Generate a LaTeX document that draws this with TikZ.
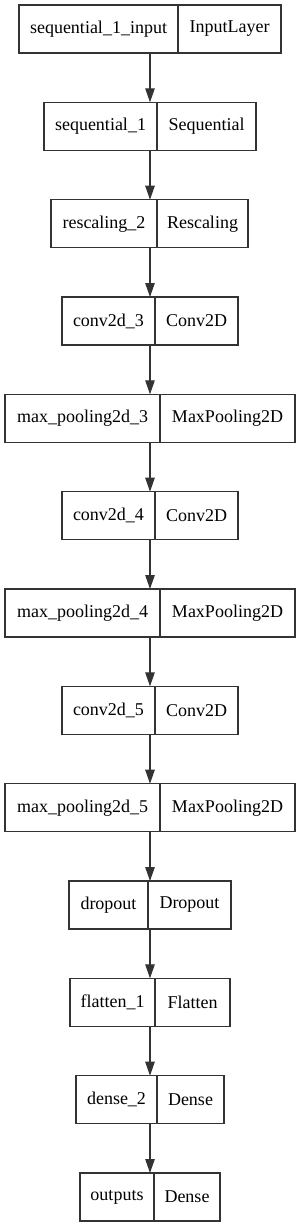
\documentclass[tikz,border=0pt]{standalone}
\usepackage{fontspec}
\setmainfont{Liberation Serif}
\usepackage{tikz}
\usetikzlibrary{positioning,arrows.meta}
\definecolor{EdgeGray}{RGB}{51,51,51}

\begin{document}
\begin{tikzpicture}[
    x=1pt,
    y=-1pt,
    font=\fontsize{18}{20}\selectfont,
    >={Triangle[length=14pt,width=9.5pt]},
    cell/.style={
        draw=EdgeGray,
        line width=1.1pt,
        outer sep=0pt,
        inner sep=2pt,
        minimum height=48pt,
        anchor=west
    },
    arrow/.style={
        ->,
        line width=1.1pt,
        draw=EdgeGray,
        fill=black
    }
]
\useasboundingbox (0,0) rectangle (300,1228);
\coordinate (spine) at (150,0);

\node[cell, minimum width=159pt] (inp) at (19,29) {sequential\_1\_input};
\node[cell, minimum width=103pt, right=0pt of inp] (inptype) {InputLayer};

\node[cell, minimum width=113pt] (seq) at (44,126.3) {sequential\_1};
\node[cell, minimum width=99pt, right=0pt of seq] (seqtype) {Sequential};

\node[cell, minimum width=106pt] (resc) at (51,223.7) {rescaling\_2};
\node[cell, minimum width=91pt, right=0pt of resc] (resctype) {Rescaling};

\node[cell, minimum width=93pt] (conva) at (62,321) {conv2d\_3};
\node[cell, minimum width=83pt, right=0pt of conva] (convatype) {Conv2D};

\node[cell, minimum width=155pt] (poola) at (5,418.3) {max\_pooling2d\_3};
\node[cell, minimum width=135pt, right=0pt of poola] (poolatype) {MaxPooling2D};

\node[cell, minimum width=93pt] (convb) at (62,515.7) {conv2d\_4};
\node[cell, minimum width=83pt, right=0pt of convb] (convbtype) {Conv2D};

\node[cell, minimum width=155pt] (poolb) at (5,613) {max\_pooling2d\_4};
\node[cell, minimum width=135pt, right=0pt of poolb] (poolbtype) {MaxPooling2D};

\node[cell, minimum width=93pt] (convc) at (62,710.3) {conv2d\_5};
\node[cell, minimum width=83pt, right=0pt of convc] (convctype) {Conv2D};

\node[cell, minimum width=155pt] (poolc) at (5,807.7) {max\_pooling2d\_5};
\node[cell, minimum width=135pt, right=0pt of poolc] (poolctype) {MaxPooling2D};

\node[cell, minimum width=79pt] (drop) at (69,905) {dropout};
\node[cell, minimum width=83pt, right=0pt of drop] (droptype) {Dropout};

\node[cell, minimum width=85pt] (flat) at (70,1002.3) {flatten\_1};
\node[cell, minimum width=75pt, right=0pt of flat] (flattype) {Flatten};

\node[cell, minimum width=81pt] (dense) at (76,1099.7) {dense\_2};
\node[cell, minimum width=67pt, right=0pt of dense] (densetype) {Dense};

\node[cell, minimum width=74pt] (outs) at (80,1197) {outputs};
\node[cell, minimum width=66pt, right=0pt of outs] (outstype) {Dense};

\draw[arrow] (inp.south -| spine) -- (seq.north -| spine);
\draw[arrow] (seq.south -| spine) -- (resc.north -| spine);
\draw[arrow] (resc.south -| spine) -- (conva.north -| spine);
\draw[arrow] (conva.south -| spine) -- (poola.north -| spine);
\draw[arrow] (poola.south -| spine) -- (convb.north -| spine);
\draw[arrow] (convb.south -| spine) -- (poolb.north -| spine);
\draw[arrow] (poolb.south -| spine) -- (convc.north -| spine);
\draw[arrow] (convc.south -| spine) -- (poolc.north -| spine);
\draw[arrow] (poolc.south -| spine) -- (drop.north -| spine);
\draw[arrow] (drop.south -| spine) -- (flat.north -| spine);
\draw[arrow] (flat.south -| spine) -- (dense.north -| spine);
\draw[arrow] (dense.south -| spine) -- (outs.north -| spine);

\end{tikzpicture}
\end{document}
